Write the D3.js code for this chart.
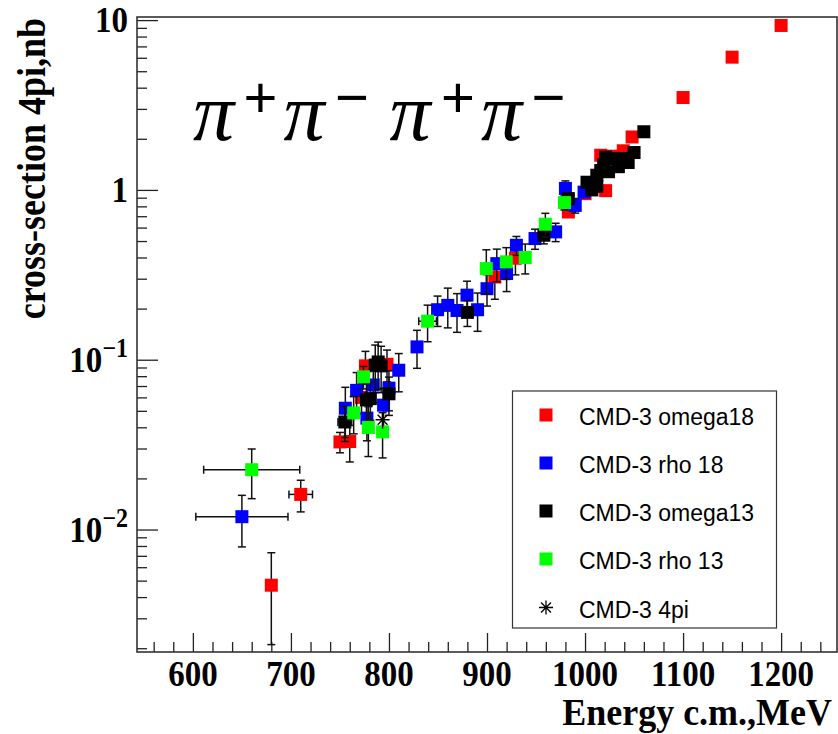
<!DOCTYPE html>
<html><head><meta charset="utf-8">
<script src="https://cdn.jsdelivr.net/npm/d3@7"></script>
<style>body{margin:0;background:#fff}svg{display:block}</style>
</head><body>
<svg id="c" width="838" height="734"></svg>
<script>
// ---------- data ----------
const seriesNames = ["CMD-3 omega18","CMD-3 rho 18","CMD-3 omega13","CMD-3 rho 13","CMD-3 4pi"];
const seriesColors = ["#ff0000","#0000ff","#000000","#00ff00","#000000"];

const redE  = [680, 710, 750, 760, 772, 776, 798, 908, 929, 983, 1000, 1016, 1021, 1029, 1039, 1048, 1100, 1150, 1200];
const redY  = [0.0047, 0.0161, 0.0328, 0.0330, 0.060, 0.092, 0.094, 0.307, 0.396, 0.741, 0.95, 1.60, 0.99, 1.58, 1.70, 2.05, 3.5, 6.05, 9.3];
const redDy = [0.0026, 0.0034, 0.0045, 0.008, 0.012, 0.02, 0.02, 0.08, 0.08, 0.04, 0.05, 0.07, 0.05, 0.07, 0.07, 0.08, 0, 0, 0];
const redDx = [0, 12, 0, 0, 0, 0, 0, 0, 0, 0, 0, 0, 0, 0, 0, 0, 0, 0, 0];

const blueE  = [650, 755.5, 767, 777.5, 784, 794.5, 800, 810, 828.6, 849.6, 860, 869.4, 879.6, 890.4, 900, 910, 920, 930, 949, 970, 980, 990, 999];
const blueY  = [0.0119, 0.0518, 0.066, 0.0453, 0.071, 0.054, 0.068, 0.0867, 0.119, 0.197, 0.209, 0.195, 0.24, 0.197, 0.262, 0.368, 0.322, 0.472, 0.517, 0.566, 1.02, 0.81, 0.97];
const blueDy = [0.004, 0.017, 0.018, 0.012, 0.015, 0.014, 0.018, 0.022, 0.03, 0.04, 0.055, 0.05, 0.05, 0.05, 0.055, 0.08, 0.07, 0.06, 0.07, 0.07, 0.11, 0.08, 0.06];
const blueDx = [47, 0, 0, 0, 0, 0, 0, 0, 0, 0, 0, 0, 0, 0, 0, 0, 0, 0, 0, 0, 0, 0, 0];

const blackE  = [755, 777, 781, 786, 789, 792, 800, 880, 958, 983, 1002, 1007, 1012, 1012, 1016, 1019, 1021, 1024, 1029, 1034, 1039, 1044, 1050, 1060];
const blackY  = [0.043, 0.058, 0.059, 0.093, 0.097, 0.092, 0.063, 0.19, 0.541, 0.889, 1.11, 1.0, 1.22, 1.05, 1.3, 1.40, 1.56, 1.28, 1.53, 1.37, 1.53, 1.45, 1.66, 2.2];
const blackDy = [0.01, 0.015, 0.015, 0.029, 0.03, 0.028, 0.016, 0.033, 0.06, 0.06, 0.05, 0.05, 0.05, 0.05, 0.05, 0.06, 0.06, 0.05, 0.06, 0.06, 0.06, 0.06, 0.07, 0.08];
const blackDx = [7, 0, 0, 0, 0, 0, 0, 0, 0, 0, 0, 0, 0, 0, 0, 0, 0, 0, 0, 0, 0, 0, 0, 0];

const greenE  = [660, 764, 774, 779, 793.5, 839.4, 899.3, 919.7, 939, 959.5, 979];
const greenY  = [0.0225, 0.0486, 0.0793, 0.0399, 0.0376, 0.1686, 0.344, 0.377, 0.40, 0.628, 0.842];
const greenDy = [0.0073, 0.012, 0.012, 0.013, 0.0112, 0.041, 0.1, 0.08, 0.08, 0.1, 0.08];
const greenDx = [49, 0, 0, 0, 0, 9, 0, 0, 0, 0, 0];

const starE  = [793.5];
const starY  = [0.0443];
const starDy = [0.005];

const xTickValues = [600, 700, 800, 900, 1000, 1100, 1200];
const xTickLabels = ["600", "700", "800", "900", "1000", "1100", "1200"];
const yTickValues = [0.01, 0.1, 1, 10];
const yTickBase = ["10", "10", "1", "10"];
const yTickExp  = ["\u22122", "\u22121", "", ""];

const xTitle = "Energy c.m.,MeV";
const yTitle = "cross-section 4pi,nb";

// ---------- layout ----------
const L = 137, R = 837, T = 17, B = 652;
const svg = d3.select("#c");
const x = d3.scaleLinear().domain([543, 1257]).range([L, R]);
const y = d3.scaleLog().domain([0.0019, 10.43]).range([B, T]);

const serif = "'Liberation Serif','Times New Roman',serif";
const sans = "'Liberation Sans',Arial,Helvetica,sans-serif";

// axes ticks
const xMinor = d3.range(560, 1257, 20).filter(v => v % 100 !== 0);
svg.append("g").attr("transform", `translate(0,${B})`)
  .call(d3.axisBottom(x).tickValues(xMinor).tickSize(-10).tickFormat(""))
  .call(g => { g.select(".domain").remove(); g.selectAll("line").attr("stroke","#222").attr("stroke-width",1.3); });
svg.append("g").attr("transform", `translate(0,${B})`)
  .call(d3.axisBottom(x).tickValues(xTickValues).tickSize(-19).tickFormat(""))
  .call(g => { g.select(".domain").remove(); g.selectAll("line").attr("stroke","#222").attr("stroke-width",1.3); });

const yMinor = [];
[0.001, 0.01, 0.1, 1].forEach(d => { for (let k = 2; k <= 9; k++) { const v = k * d; if (v > 0.0019 && v < 10.43) yMinor.push(v); } });
svg.append("g").attr("transform", `translate(${L},0)`)
  .call(d3.axisLeft(y).tickValues(yMinor).tickSize(-10).tickFormat(""))
  .call(g => { g.select(".domain").remove(); g.selectAll("line").attr("stroke","#222").attr("stroke-width",1.3); });
svg.append("g").attr("transform", `translate(${L},0)`)
  .call(d3.axisLeft(y).tickValues(yTickValues).tickSize(-21).tickFormat(""))
  .call(g => { g.select(".domain").remove(); g.selectAll("line").attr("stroke","#222").attr("stroke-width",1.3); });

// frame
svg.append("rect").attr("x", L).attr("y", T).attr("width", R - L).attr("height", B - T)
  .attr("fill", "none").attr("stroke", "#333").attr("stroke-width", 1.6);

// tick labels
xTickValues.forEach((v, i) => {
  svg.append("text").attr("transform", `translate(${x(v)},686) scale(1,1.1)`)
    .attr("text-anchor", "middle").attr("font-family", serif).attr("font-weight", "bold")
    .attr("font-size", 33).text(xTickLabels[i]);
});
yTickValues.forEach((v, i) => {
  const t = svg.append("text").attr("transform", `translate(128,${y(v) + 12}) scale(1,1.1)`)
    .attr("text-anchor", "end").attr("font-family", serif).attr("font-weight", "bold")
    .attr("font-size", 33);
  t.append("tspan").text(yTickBase[i]);
  if (yTickExp[i]) t.append("tspan").attr("dy", -13).attr("font-size", 24).text(yTickExp[i]);
});

// axis titles
svg.append("text").attr("transform", `translate(832,725) scale(1,1.06)`)
  .attr("text-anchor", "end").attr("font-family", serif).attr("font-weight", "bold")
  .attr("font-size", 36).text(xTitle);
svg.append("text").attr("transform", `translate(45,18) rotate(-90) scale(1,1.12)`)
  .attr("text-anchor", "end").attr("font-family", serif).attr("font-weight", "bold")
  .attr("font-size", 36).text(yTitle);

// title pi+ pi- pi+ pi-
const titleGlyphs = ["\u03c0", "+", "\u03c0", "\u2212", "\u03c0", "+", "\u03c0", "\u2212"];
const titleCx = [213.5, 260.5, 304, 352, 410, 458, 501.5, 548.5];
titleGlyphs.forEach((g, i) => {
  const isPi = g === "\u03c0";
  svg.append("text").attr("x", titleCx[i]).attr("y", isPi ? 140 : 96)
    .attr("text-anchor", "middle")
    .attr("dominant-baseline", isPi ? "alphabetic" : "central")
    .attr("font-family", isPi ? serif : sans)
    .attr("font-style", isPi ? "italic" : "normal")
    .attr("font-size", isPi ? 82 : 58).text(g);
});

// ---------- data drawing ----------
const plot = svg.append("g");
const cap = 4, ms = 13;
function drawSeries(E, Y, DY, DX, color) {
  const d = E.map((e, i) => ({ e, v: Y[i], dy: DY[i], dx: DX ? DX[i] : 0 }));
  const g = plot.append("g");
  d.forEach(p => {
    const cx = x(p.e), cy = y(p.v);
    if (p.dy > 0) {
      const y1 = y(p.v + p.dy), y0 = y(Math.max(p.v - p.dy, 0.0019));
      g.append("line").attr("x1", cx).attr("x2", cx).attr("y1", y1).attr("y2", y0).attr("stroke", "#111").attr("stroke-width", 1.5);
      g.append("line").attr("x1", cx - cap).attr("x2", cx + cap).attr("y1", y1).attr("y2", y1).attr("stroke", "#111").attr("stroke-width", 1.5);
      g.append("line").attr("x1", cx - cap).attr("x2", cx + cap).attr("y1", y0).attr("y2", y0).attr("stroke", "#111").attr("stroke-width", 1.5);
    }
    if (p.dx > 0) {
      const xa = x(p.e - p.dx), xb = x(p.e + p.dx);
      g.append("line").attr("x1", xa).attr("x2", xb).attr("y1", cy).attr("y2", cy).attr("stroke", "#111").attr("stroke-width", 1.5);
      g.append("line").attr("x1", xa).attr("x2", xa).attr("y1", cy - cap).attr("y2", cy + cap).attr("stroke", "#111").attr("stroke-width", 1.5);
      g.append("line").attr("x1", xb).attr("x2", xb).attr("y1", cy - cap).attr("y2", cy + cap).attr("stroke", "#111").attr("stroke-width", 1.5);
    }
  });
  g.selectAll("rect.m").data(d).join("rect").attr("class", "m")
    .attr("x", p => x(p.e) - ms / 2).attr("y", p => y(p.v) - ms / 2)
    .attr("width", ms).attr("height", ms).attr("fill", color);
}
function starPath(cx, cy, r) {
  const k = r * 0.7071;
  return `M${cx - r},${cy}L${cx + r},${cy}M${cx},${cy - r}L${cx},${cy + r}M${cx - k},${cy - k}L${cx + k},${cy + k}M${cx - k},${cy + k}L${cx + k},${cy - k}`;
}
drawSeries(redE, redY, redDy, redDx, seriesColors[0]);
drawSeries(blueE, blueY, blueDy, blueDx, seriesColors[1]);
drawSeries(blackE, blackY, blackDy, blackDx, seriesColors[2]);
drawSeries(greenE, greenY, greenDy, greenDx, seriesColors[3]);
// star series
starE.forEach((e, i) => {
  const cx = x(e), cy = y(starY[i]);
  const y1 = y(starY[i] + starDy[i]), y0 = y(starY[i] - starDy[i]);
  plot.append("line").attr("x1", cx).attr("x2", cx).attr("y1", y1).attr("y2", y0).attr("stroke", "#111").attr("stroke-width", 1.5);
  plot.append("path").attr("d", starPath(cx, cy, 7)).attr("stroke", "#000").attr("stroke-width", 1.3).attr("fill", "none");
});

// ---------- legend ----------
const lg = svg.append("g");
lg.append("rect").attr("x", 512.5).attr("y", 391).attr("width", 264).attr("height", 237)
  .attr("fill", "#fff").attr("stroke", "#333").attr("stroke-width", 1.2);
const rowY = [415, 463, 511, 559, 607.5];
seriesNames.forEach((n, i) => {
  if (i < 4) {
    lg.append("rect").attr("x", 546 - 6.5).attr("y", rowY[i] - 6.5).attr("width", 13).attr("height", 13).attr("fill", seriesColors[i]);
  } else {
    lg.append("path").attr("d", starPath(546, rowY[i], 7)).attr("stroke", "#000").attr("stroke-width", 1.3).attr("fill", "none");
  }
  lg.append("text").attr("x", 579).attr("y", rowY[i] + 10).attr("font-family", sans)
    .attr("font-size", 23).attr("fill", "#000").text(n);
});
</script>
</body></html>
